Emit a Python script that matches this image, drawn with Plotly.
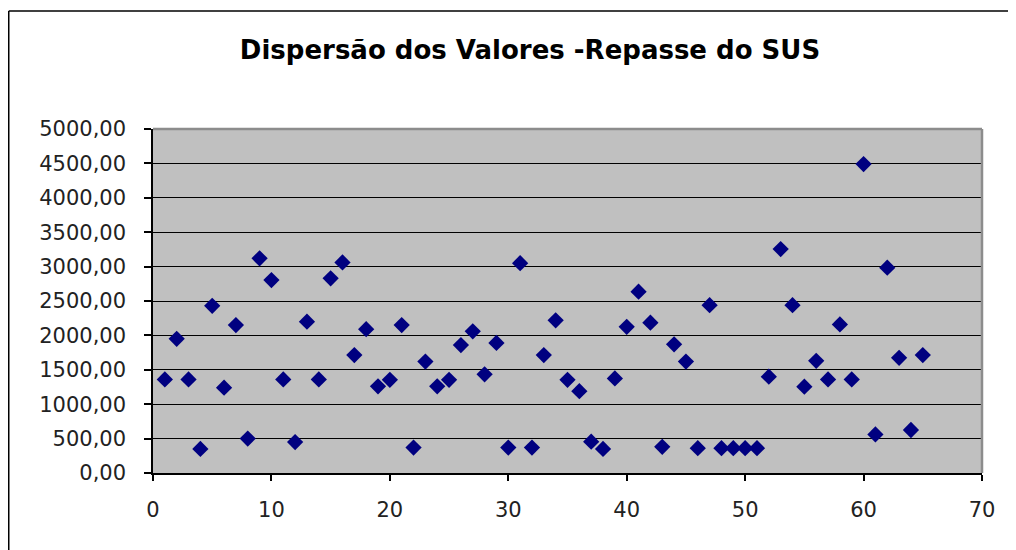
import plotly.graph_objects as go

# Data
indices = list(range(1, 66))
valores = [
    1360, 1950, 1360, 350, 2430, 1240, 2150, 500, 3120, 2805,
    1360, 450, 2200, 1360, 2830, 3060, 1715, 2090, 1260, 1355,
    2150, 370, 1620, 1260, 1355, 1860, 2060, 1435, 1890, 370,
    3050, 370, 1715, 2220, 1355, 1190, 455, 350, 1375, 2125,
    2635, 2185, 380, 1870, 1620, 360, 2440, 360, 360, 360,
    360, 1400, 3255, 2440, 1255, 1630, 1360, 2160, 1360, 4490,
    560, 2985, 1675, 625, 1715,
]
titulo = "Dispersão dos Valores -Repasse do SUS"

W, H = 1008, 542
L, R, T, B = 145, 34, 121, 77
PW, PH = W - L - R, H - T - B

fig = go.Figure()
fig.add_trace(go.Scatter(
    x=indices, y=valores, mode="markers",
    marker=dict(symbol="diamond", size=12.5, color="#000080", line=dict(width=0)),
    showlegend=False, hoverinfo="x+y",
))

tickfont = dict(family="DejaVu Sans", size=21, color="#222222")

fig.update_layout(
    width=W, height=H,
    margin=dict(l=L, r=R, t=T, b=B),
    paper_bgcolor="white",
    plot_bgcolor="#C0C0C0",
    separators=",.",
    title=dict(
        text=titulo, x=(530 - 8) / W, xref="container", xanchor="center",
        y=1 - 42 / H, yref="container", yanchor="middle",
        font=dict(family="DejaVu Sans", size=26, color="black", weight="bold"),
    ),
    xaxis=dict(
        range=[0, 70], dtick=10, tick0=0,
        showgrid=False, zeroline=False,
        showline=True, linecolor="black", linewidth=1.5,
        ticks="outside", ticklen=6, tickcolor="black", tickwidth=1.5,
        tickfont=tickfont, ticklabelstandoff=11,
    ),
    yaxis=dict(
        range=[0, 5000], dtick=500, tick0=0, tickformat=".2f",
        showgrid=True, gridcolor="black", gridwidth=1.2,
        zeroline=False,
        showline=True, linecolor="black", linewidth=1.5,
        ticks="outside", ticklen=7, tickcolor="black", tickwidth=1.5,
        tickfont=tickfont, ticklabelstandoff=14,
    ),
    shapes=[
        # gray border on top and right of plot area
        dict(type="line", xref="paper", yref="paper", x0=0, x1=1, y0=1, y1=1,
             line=dict(color="#8C8C8C", width=2.5)),
        dict(type="line", xref="paper", yref="paper", x0=1, x1=1, y0=0, y1=1,
             line=dict(color="#8C8C8C", width=2.5)),
        # outer chart frame (top and left)
        dict(type="line", xref="paper", yref="paper",
             x0=(0.75 - L) / PW, x1=(W - L) / PW,
             y0=(T + PH - 3) / PH, y1=(T + PH - 3) / PH,
             line=dict(color="black", width=1.5)),
        dict(type="line", xref="paper", yref="paper",
             x0=(0.75 - L) / PW, x1=(0.75 - L) / PW,
             y0=(T + PH - 3) / PH, y1=(T + PH - H) / PH,
             line=dict(color="black", width=1.5)),
    ],
)

fig.write_html("out.html")
